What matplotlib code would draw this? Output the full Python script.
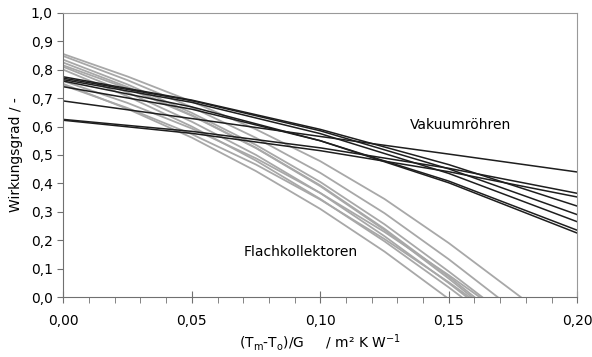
import numpy as np
import matplotlib
matplotlib.use("Agg")
from matplotlib import pyplot as plt
from matplotlib.ticker import MultipleLocator, FuncFormatter

# Vakuumroehren: values read at x = 0, 0.05, 0.10, 0.15, 0.20
x_vak = [0.0, 0.05, 0.10, 0.15, 0.20]
vak_1 = [0.775, 0.693, 0.590, 0.466, 0.320]
vak_2 = [0.770, 0.691, 0.585, 0.451, 0.290]
vak_3 = [0.765, 0.685, 0.575, 0.435, 0.265]
vak_4 = [0.760, 0.669, 0.550, 0.402, 0.225]
vak_5 = [0.740, 0.661, 0.550, 0.408, 0.235]
vak_6 = [0.690, 0.628, 0.565, 0.503, 0.440]
vak_7 = [0.625, 0.583, 0.525, 0.453, 0.365]
vak_8 = [0.622, 0.576, 0.515, 0.441, 0.352]

# Flachkollektoren: x points and values
x_fk_1 = [0.0, 0.025, 0.05, 0.075, 0.10, 0.125, 0.15, 0.178]
fk_1 = [0.855, 0.776, 0.688, 0.590, 0.478, 0.345, 0.190, 0.0]
x_fk_2 = [0.0, 0.025, 0.05, 0.075, 0.10, 0.125, 0.15, 0.169]
fk_2 = [0.848, 0.763, 0.668, 0.560, 0.437, 0.295, 0.133, 0.0]
x_fk_3 = [0.0, 0.025, 0.05, 0.075, 0.10, 0.125, 0.15, 0.163]
fk_3 = [0.835, 0.748, 0.648, 0.535, 0.405, 0.256, 0.090, 0.0]
x_fk_4 = [0.0, 0.025, 0.05, 0.075, 0.10, 0.125, 0.15, 0.160]
fk_4 = [0.825, 0.739, 0.640, 0.525, 0.393, 0.240, 0.072, 0.0]
x_fk_5 = [0.0, 0.025, 0.05, 0.075, 0.10, 0.125, 0.15, 0.159]
fk_5 = [0.815, 0.734, 0.638, 0.524, 0.390, 0.236, 0.065, 0.0]
x_fk_6 = [0.0, 0.025, 0.05, 0.075, 0.10, 0.125, 0.15, 0.157]
fk_6 = [0.810, 0.720, 0.617, 0.500, 0.366, 0.214, 0.049, 0.0]
x_fk_7 = [0.0, 0.025, 0.05, 0.075, 0.10, 0.125, 0.15, 0.155]
fk_7 = [0.800, 0.706, 0.600, 0.480, 0.345, 0.196, 0.034, 0.0]
x_fk_8 = [0.0, 0.025, 0.05, 0.075, 0.10, 0.125, 0.15, 0.162]
fk_8 = [0.760, 0.683, 0.593, 0.488, 0.366, 0.229, 0.077, 0.0]
x_fk_9 = [0.0, 0.025, 0.05, 0.075, 0.10, 0.125, 0.149]
fk_9 = [0.750, 0.662, 0.561, 0.443, 0.310, 0.160, 0.0]
x_fk_10 = [0.0, 0.025, 0.05, 0.075, 0.10, 0.125, 0.15, 0.158]
fk_10 = [0.745, 0.665, 0.573, 0.466, 0.343, 0.204, 0.052, 0.0]

vak_series = [vak_1, vak_2, vak_3, vak_4, vak_5, vak_6, vak_7, vak_8]
fk_series = [(x_fk_1, fk_1), (x_fk_2, fk_2), (x_fk_3, fk_3), (x_fk_4, fk_4),
             (x_fk_5, fk_5), (x_fk_6, fk_6), (x_fk_7, fk_7), (x_fk_8, fk_8),
             (x_fk_9, fk_9), (x_fk_10, fk_10)]

plt.rcParams['font.family'] = ['DejaVu Sans']

fig = plt.figure(figsize=(5.92, 3.57), dpi=100)
ax = fig.add_axes([0.107, 0.168, 0.868, 0.796])

# grey flat collectors first, black vacuum tubes on top
for xs, ys in fk_series:
    ax.plot(xs, ys, color='#a8a8a8', lw=1.3)
for ys in vak_series:
    ax.plot(x_vak, ys, color='#1e1e1e', lw=1.1)

ax.set_xlim(0, 0.2)
ax.set_ylim(0, 1.0)

ax.xaxis.set_major_locator(MultipleLocator(0.05))
ax.xaxis.set_minor_locator(MultipleLocator(0.01))
ax.yaxis.set_major_locator(MultipleLocator(0.1))
ax.xaxis.set_major_formatter(FuncFormatter(lambda v, p: f"{v:.2f}".replace('.', ',')))
ax.yaxis.set_major_formatter(FuncFormatter(lambda v, p: f"{v:.1f}".replace('.', ',')))

ax.tick_params(axis='x', which='major', direction='inout', length=8, color='#707070',
               labelsize=10, pad=8)
ax.tick_params(axis='x', which='minor', direction='out', length=4, color='#707070')
ax.tick_params(axis='y', which='major', direction='out', length=4, color='#707070',
               labelsize=10)

for side in ['left', 'bottom']:
    ax.spines[side].set_color('#707070')
for side in ['top', 'right']:
    ax.spines[side].set_color('#999999')

ax.set_ylabel('Wirkungsgrad / -', fontsize=10, labelpad=6)
ax.set_xlabel('(T$_\\mathregular{m}$-T$_\\mathregular{o}$)/G     / m² K W$^\\mathregular{-1}$',
              fontsize=10, labelpad=3)

ax.text(0.1545, 0.605, 'Vakuumröhren', fontsize=10, ha='center', va='center')
ax.text(0.0925, 0.158, 'Flachkollektoren', fontsize=10, ha='center', va='center')

fig.savefig('out.png', dpi=100)
